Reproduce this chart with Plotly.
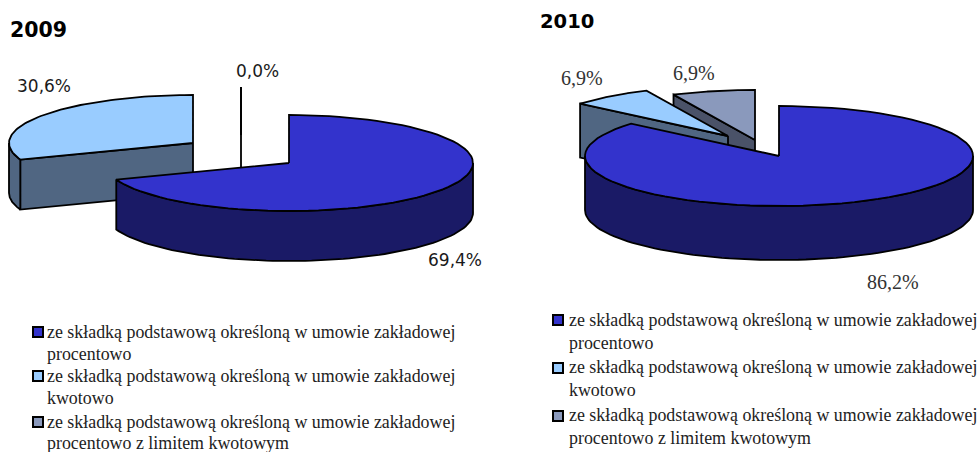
import numpy as np
import plotly.graph_objects as go

# ---- data ----
categories = [
    "ze składką podstawową określoną w umowie zakładowej<br>procentowo",
    "ze składką podstawową określoną w umowie zakładowej<br>kwotowo",
    "ze składką podstawową określoną w umowie zakładowej<br>procentowo z limitem kwotowym",
]
values_2009 = [69.4, 30.6, 0.0]
values_2010 = [86.2, 6.9, 6.9]
labels_2009 = ["69,4%", "30,6%", "0,0%"]
labels_2010 = ["86,2%", "6,9%", "6,9%"]

# ---- styles / geometry ----
top_colors = ["#3333CC", "#99CCFF", "#8A99BC"]
wall_colors = ["#1A1A66", "#506682", "#4A5268"]
INK = "#000000"


def arc(cx, cy, rx, ry, t0, t1, dy=0, n=80):
    t = np.radians(np.linspace(t0, t1, n))
    return cx + rx * np.sin(t), cy - ry * np.cos(t) + dy


def poly(fig, xs, ys, color):
    fig.add_trace(go.Scatter(x=np.asarray(xs), y=np.asarray(ys), mode="lines", fill="toself",
                             fillcolor=color, line=dict(color=INK, width=1.8),
                             hoverinfo="skip", showlegend=False))


def draw_pie(fig, values, centers, rx, ry, depth, order):
    edges = np.concatenate([[0], np.cumsum(values)]) / sum(values) * 360
    for i in order:
        t0, t1 = edges[i], edges[i + 1]
        cx, cy = centers[i]
        # cut face that turns to the viewer
        if 180 < t0 <= 360:
            ex, ey = arc(cx, cy, rx, ry, t0, t0, n=1)
            poly(fig, [cx, ex[0], ex[0], cx, cx],
                 [cy, ey[0], ey[0] + depth, cy + depth, cy], wall_colors[i])
        # outer wall of the front half
        a, b = max(t0, 90), min(t1, 270)
        if b > a:
            x1, y1 = arc(cx, cy, rx, ry, a, b)
            x2, y2 = arc(cx, cy, rx, ry, b, a, dy=depth)
            poly(fig, np.r_[x1, x2, x1[0]], np.r_[y1, y2, y1[0]], wall_colors[i])
        # top face
        x, y = arc(cx, cy, rx, ry, t0, t1)
        poly(fig, np.r_[cx, x, cx], np.r_[cy, y, cy], top_colors[i])


fig = go.Figure()
draw_pie(fig, values_2009, [(289, 163), (193, 143), (241, 135)], 184, 48, 50, [1, 2, 0])
draw_pie(fig, values_2010, [(779, 156), (728, 136), (755, 140)], 194, 50, 54, [2, 1, 0])


def text(x, y, s, family, size, color="#000000", bold=False, anchor="left"):
    fig.add_annotation(x=x, y=y, text=f"<b>{s}</b>" if bold else s, showarrow=False,
                       xanchor=anchor, yanchor="middle", align="left",
                       font=dict(family=family, size=size, color=color))


SANS = "DejaVu Sans"
SERIF = "Liberation Serif"
text(8, 30, "2009", SANS, 20.5, bold=True)
text(538, 21, "2010", SANS, 19.5, bold=True)
text(15, 86, labels_2009[1], SANS, 17, "#1a1a1a")
text(234, 71, labels_2009[2], SANS, 17, "#1a1a1a")
text(426, 260, labels_2009[0], SANS, 17, "#1a1a1a")
text(559, 78, labels_2010[1], SERIF, 20, "#333333")
text(671, 73, labels_2010[2], SERIF, 20, "#333333")
text(865, 282, labels_2010[0], SERIF, 20, "#333333")

# legends: one annotation per text line
for lx, mx, ys, my in [(45, 38, (332, 354, 376, 398, 422, 443), (332, 376, 422)),
                       (567, 558, (320, 343, 367, 390, 415, 438), (320, 368, 416))]:
    fig.add_trace(go.Scatter(x=[mx] * 3, y=list(my), mode="markers",
                             marker=dict(symbol="square", size=10, color=top_colors,
                                         line=dict(color=INK, width=2)),
                             hoverinfo="skip", showlegend=False))
    lines = [ln for c in categories for ln in c.split("<br>")]
    for y, ln in zip(ys, lines):
        fig.add_annotation(x=lx, y=y, text=ln, showarrow=False, xanchor="left", yanchor="middle",
                           align="left", font=dict(family=SERIF, size=17.9, color="#222222"))

fig.update_layout(
    width=979, height=452, margin=dict(l=0, r=0, t=0, b=0),
    paper_bgcolor="white", plot_bgcolor="white",
    xaxis=dict(range=[0, 979], visible=False, fixedrange=True),
    yaxis=dict(range=[452, 0], visible=False, fixedrange=True),
)
fig.write_html("out.html", config=dict(displayModeBar=False),
               post_script="document.body.style.margin='0';")
